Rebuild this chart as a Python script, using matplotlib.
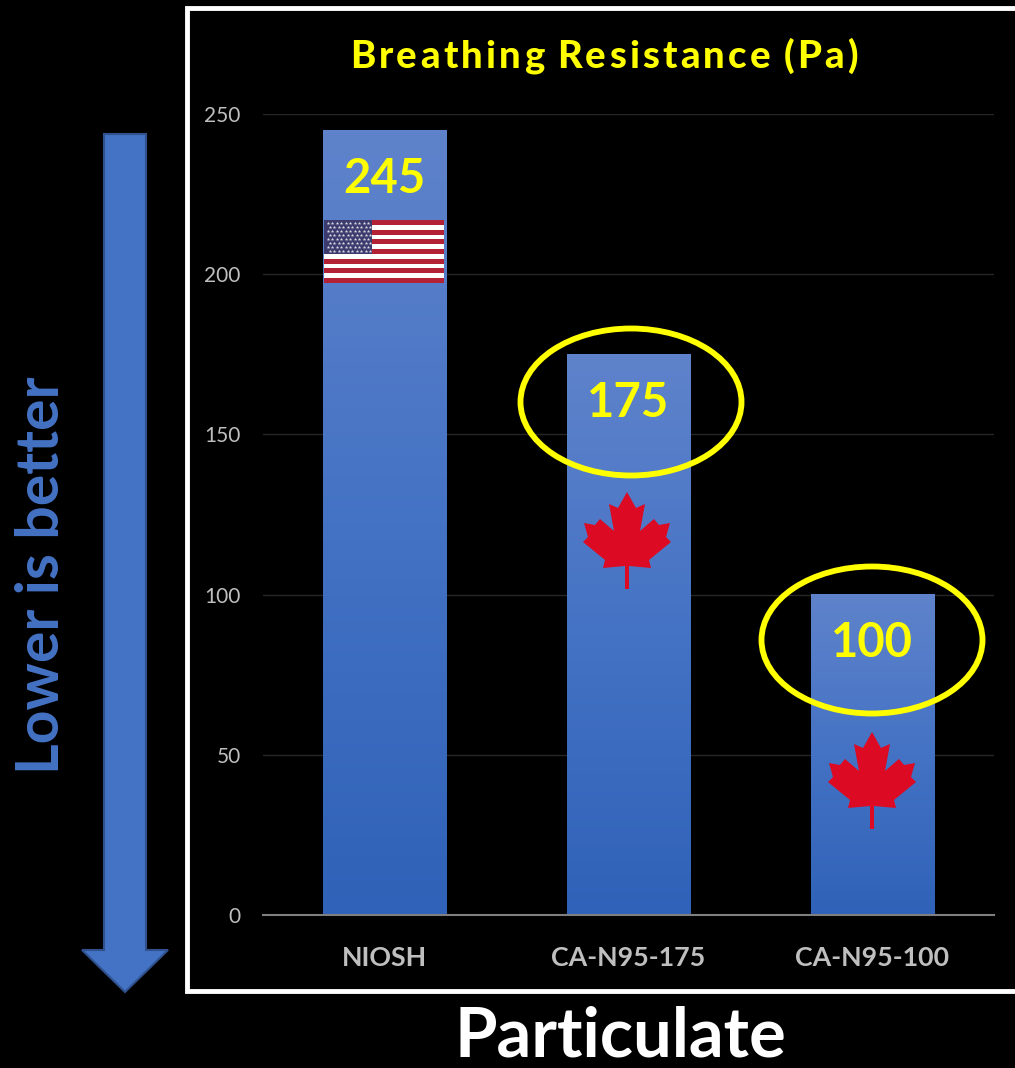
import numpy as np
import matplotlib.pyplot as plt
from matplotlib.colors import LinearSegmentedColormap
from matplotlib.patches import Rectangle, Ellipse, Polygon

categories = ['NIOSH', 'CA-N95-175', 'CA-N95-100']
values = [245, 175, 100]
yticks = [0, 50, 100, 150, 200, 250]
title = 'Breathing Resistance (Pa)'

W, H = 1015, 1068
plt.rcParams['font.family'] = ['Lato', 'DejaVu Sans']
fig = plt.figure(figsize=(W / 100, H / 100), dpi=100, facecolor='black')

# full figure overlay in pixel coords
bg = fig.add_axes([0, 0, 1, 1])
bg.set_xlim(0, W)
bg.set_ylim(H, 0)
bg.axis('off')
bg.add_patch(Rectangle((187, 8), 840, 983, fc='black', ec='white', lw=3.5))

# lower is better arrow
bg.add_patch(Polygon([(104, 134), (146, 134), (146, 950), (168, 950), (125, 992), (82, 950), (104, 950)],
                     fc='#4472c4', ec='#2f528f', lw=1.5))
bg.text(42, 575, 'Lower is better', color='#4472c4', fontsize=42.5, fontweight='bold',
        rotation=90, ha='center', va='center')
bg.text(620, 1037, 'Particulate', color='white', fontsize=49.5, fontweight='bold', ha='center', va='center')

# title, letter spaced by hand like the original
r = fig.canvas.get_renderer()
sizes = []
for ch in title:
    t = bg.text(0, 0, ch if ch != ' ' else 'n', fontsize=27.5, fontweight='black')
    w = t.get_window_extent(r).width
    sizes.append(w * 0.3 if ch == ' ' else w)
    t.remove()
gap = (508 - sum(sizes)) / (len(title) - 1)
cur = 350
for ch, w in zip(title, sizes):
    bg.text(cur, 68, ch, color='#ffff00', fontsize=27.5, fontweight='black', ha='left', va='baseline')
    cur += w + gap

# chart
ax = fig.add_axes([263 / W, 1 - 915 / H, (994 - 263) / W, (915 - 114) / H], facecolor='none')
x = np.arange(len(categories))
cmap = LinearSegmentedColormap.from_list('bar', ['#2f62b8', '#4472c4', '#5f83cb'])
grad = np.linspace(0, 1, 256).reshape(-1, 1)
width = 0.505
for xi, v in zip(x, values):
    ax.imshow(grad, origin='lower', extent=[xi - width / 2, xi + width / 2, 0, v],
              aspect='auto', cmap=cmap, zorder=2)
ax.set_xlim(-0.5, 2.5)
ax.set_ylim(0, 250)
ax.set_xticks(x, categories)
ax.set_yticks(yticks)
ax.tick_params(length=0)
ax.tick_params(axis='x', colors='#bfbfbf', labelsize=19.3, pad=22)
ax.tick_params(axis='y', colors='#bfbfbf', labelsize=15, pad=16)
for lab in ax.get_xticklabels():
    lab.set_fontweight('bold')
ax.grid(axis='y', color='#262626', lw=1, zorder=0)
ax.set_axisbelow(True)
for s in ['top', 'left', 'right']:
    ax.spines[s].set_visible(False)
ax.spines['bottom'].set_color('#7f7f7f')
ax.spines['bottom'].set_linewidth(1.5)

# overlay above bars
top = fig.add_axes([0, 0, 1, 1], facecolor='none')
top.set_xlim(0, W)
top.set_ylim(H, 0)
top.axis('off')
for xi, v, py in zip(x, values, [179, 403, 643]):
    top.text(263 + (xi + 0.5) * (994 - 263) / 3, py, str(v), color='#ffff00', fontsize=34,
             fontweight='bold', ha='center', va='center')
top.add_patch(Ellipse((631, 402), 221, 147, fc='none', ec='#ffff00', lw=4.2))
top.add_patch(Ellipse((872, 640), 221, 147, fc='none', ec='#ffff00', lw=4.2))

# US flag
fx0, fx1, fy0, fy1 = 324, 444, 220, 283
for i in range(13):
    h = (fy1 - fy0) / 13
    top.add_patch(Rectangle((fx0, fy0 + i * h), fx1 - fx0, h, fc='#b22234' if i % 2 == 0 else 'white', ec='none'))
top.add_patch(Rectangle((fx0, fy0), 48, 34, fc='#3c3b6e', ec='none'))
sx, sy = np.meshgrid(np.linspace(fx0 + 4, fx0 + 44, 10), np.linspace(fy0 + 3, fy0 + 31, 8))
sx[1::2] += 2
top.scatter(sx, sy, s=7, color='#d8d8e4', marker='*', linewidths=0)

# maple leaves
leaf = [(0, -48), (9, -32), (18, -36), (13, -9), (27, -21), (32, -15), (43, -17), (39, -3), (44, 2),
        (22, 20), (24, 28), (2, 26), (2, 49), (-2, 49), (-2, 26), (-24, 28), (-22, 20), (-44, 2),
        (-39, -3), (-43, -17), (-32, -15), (-27, -21), (-13, -9), (-18, -36), (-9, -32)]
for cx, cy in [(627, 540), (872, 780)]:
    top.add_patch(Polygon([(cx + a, cy + b) for a, b in leaf], fc='#dc0a22', ec='none'))

fig.savefig('out.png', dpi=100, facecolor='black')
